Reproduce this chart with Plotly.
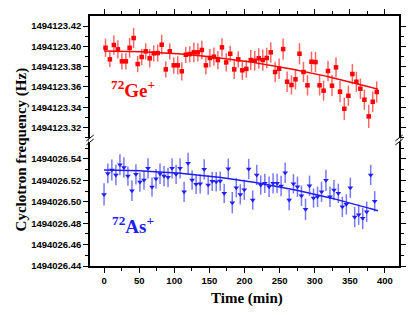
import numpy as np
import plotly.graph_objects as go

# ---------------- data ----------------
t_ge = [2.1, 8.3, 14.0, 19.7, 25.4, 31.1, 36.4, 42.1, 47.9, 53.6, 59.3, 65.0, 70.7, 76.4, 82.1,
        87.9, 93.6, 99.3, 105.0, 110.7, 116.4, 122.1, 127.9, 133.6, 139.3, 145.0, 150.7, 156.4,
        162.1, 167.9, 174.0, 179.7, 185.4, 191.1, 196.9, 202.6, 208.9, 214.6, 220.3, 226.0, 231.7,
        237.4, 243.6, 249.3, 255.0, 260.7, 266.9, 272.6, 278.3, 284.0, 289.7, 295.4, 301.1, 306.9,
        312.6, 318.9, 324.6, 330.3, 336.0, 342.1, 347.9, 353.6, 359.3, 365.0, 370.7, 376.9, 382.6,
        388.3]
f_ge = [1494123.3986, 1494123.3872, 1494123.4013, 1494123.3970, 1494123.3852, 1494123.3852,
        1494123.3986, 1494123.4082, 1494123.3826, 1494123.3895, 1494123.3951, 1494123.3882,
        1494123.3931, 1494123.3934, 1494123.4016, 1494123.3773, 1494123.3951, 1494123.3813,
        1494123.3813, 1494123.3754, 1494123.3917, 1494123.3924, 1494123.3941, 1494123.3941,
        1494123.3964, 1494123.3813, 1494123.3885, 1494123.3898, 1494123.3865, 1494123.3990,
        1494123.3842, 1494123.3927, 1494123.3773, 1494123.3872, 1494123.3764, 1494123.3778,
        1494123.3865, 1494123.3858, 1494123.3882, 1494123.3865, 1494123.3885, 1494123.3941,
        1494123.3747, 1494123.3779, 1494123.3973, 1494123.3651, 1494123.3619, 1494123.3675,
        1494123.3927, 1494123.3747, 1494123.3616, 1494123.3848, 1494123.3845, 1494123.3616,
        1494123.3563, 1494123.3757, 1494123.3612, 1494123.3793, 1494123.3553, 1494123.3385,
        1494123.3513, 1494123.3727, 1494123.3651, 1494123.3582, 1494123.3474, 1494123.3310,
        1494123.3454, 1494123.3550]
e_ge = [0.0090, 0.0075, 0.0097, 0.0090, 0.0080, 0.0080, 0.0097, 0.0100, 0.0080, 0.0080, 0.0080,
        0.0090, 0.0080, 0.0085, 0.0097, 0.0080, 0.0080, 0.0080, 0.0090, 0.0090, 0.0080, 0.0080,
        0.0097, 0.0090, 0.0090, 0.0090, 0.0090, 0.0090, 0.0090, 0.0090, 0.0090, 0.0080, 0.0095,
        0.0080, 0.0095, 0.0087, 0.0100, 0.0095, 0.0100, 0.0105, 0.0100, 0.0100, 0.0100, 0.0100,
        0.0105, 0.0100, 0.0095, 0.0100, 0.0105, 0.0100, 0.0100, 0.0100, 0.0100, 0.0100, 0.0100,
        0.0100, 0.0105, 0.0100, 0.0105, 0.0110, 0.0100, 0.0100, 0.0100, 0.0100, 0.0100, 0.0115,
        0.0100, 0.0105]

t_as = [0.0, 5.4, 11.1, 16.9, 22.6, 28.3, 34.0, 39.7, 45.4, 51.1, 56.9, 62.6, 68.3, 74.0, 79.7,
        85.4, 91.1, 96.9, 102.6, 108.3, 114.0, 119.7, 125.4, 131.1, 136.9, 142.6, 148.3, 154.0,
        159.7, 165.4, 171.1, 176.9, 182.6, 188.3, 194.0, 199.7, 206.0, 211.7, 217.4, 223.1, 228.9,
        235.0, 240.7, 246.4, 252.1, 257.9, 263.6, 269.7, 275.4, 281.1, 286.9, 292.6, 298.3, 304.0,
        309.7, 316.0, 321.7, 327.4, 333.6, 339.3, 345.0, 350.7, 356.9, 362.6, 368.3, 374.0, 379.7,
        385.4]
f_as = [1494026.5069, 1494026.5265, 1494026.5296, 1494026.5250, 1494026.5346, 1494026.5321,
        1494026.5240, 1494026.5103, 1494026.5256, 1494026.5184, 1494026.5203, 1494026.5312,
        1494026.5137, 1494026.5215, 1494026.5262, 1494026.5240, 1494026.5228, 1494026.5312,
        1494026.5256, 1494026.5312, 1494026.5093, 1494026.5359, 1494026.5203, 1494026.5163,
        1494026.5168, 1494026.5303, 1494026.5156, 1494026.5191, 1494026.5187, 1494026.5193,
        1494026.5079, 1494026.5308, 1494026.4991, 1494026.5131, 1494026.5069, 1494026.5112,
        1494026.5306, 1494026.5016, 1494026.5250, 1494026.5156, 1494026.5172, 1494026.5140,
        1494026.5172, 1494026.5172, 1494026.5147, 1494026.5271, 1494026.5016, 1494026.5168,
        1494026.5140, 1494026.5056, 1494026.4929, 1494026.5150, 1494026.5035, 1494026.5047,
        1494026.5093, 1494026.5200, 1494026.5047, 1494026.5109, 1494026.5079, 1494026.4953,
        1494026.4976, 1494026.5131, 1494026.4857, 1494026.4879, 1494026.4845, 1494026.4907,
        1494026.5250, 1494026.5004]
e_as = [0.0105, 0.0093, 0.0098, 0.0095, 0.0098, 0.0095, 0.0090, 0.0095, 0.0095, 0.0090, 0.0090,
        0.0095, 0.0090, 0.0090, 0.0095, 0.0095, 0.0090, 0.0095, 0.0090, 0.0095, 0.0095, 0.0100,
        0.0090, 0.0090, 0.0090, 0.0095, 0.0090, 0.0090, 0.0090, 0.0090, 0.0090, 0.0095, 0.0100,
        0.0090, 0.0095, 0.0095, 0.0095, 0.0090, 0.0095, 0.0090, 0.0090, 0.0095, 0.0095, 0.0090,
        0.0095, 0.0095, 0.0095, 0.0090, 0.0095, 0.0095, 0.0100, 0.0095, 0.0090, 0.0095, 0.0095,
        0.0100, 0.0095, 0.0095, 0.0090, 0.0095, 0.0095, 0.0095, 0.0095, 0.0095, 0.0100, 0.0095,
        0.0095, 0.0095]

# quadratic fit curves as drawn in the figure: f(t) = a + b*t + c*t^2  (t in min)
fit_ge_coef = [1494123.3954, 0.0, -2.481e-7]
fit_as_coef = [1494026.5296, 0.0, -2.501e-7]
fit_t_range = [0.0, 390.0]

x_ticks = [0, 50, 100, 150, 200, 250, 300, 350, 400]


def fit_curve(coef):
    tt = np.linspace(fit_t_range[0], fit_t_range[1], 200)
    a, b, c = coef
    return tt, a + b * tt + c * tt ** 2


tg, fg = fit_curve(fit_ge_coef)
ta, fa = fit_curve(fit_as_coef)

RED = "#ff0000"
BLUE = "#1e1eff"
TICKFONT = dict(family="Liberation Sans, Arial", size=9.5, color="black", weight="bold")
SERIF = "Liberation Serif, Times New Roman, serif"

fig = go.Figure()
fig.add_trace(go.Scatter(x=t_ge, y=f_ge, mode="markers", xaxis="x2", yaxis="y",
                         marker=dict(symbol="square", size=4.5, color=RED),
                         error_y=dict(type="data", array=e_ge, color="rgba(255,0,0,0.6)",
                                      thickness=1.5, width=0)))
fig.add_trace(go.Scatter(x=tg, y=fg, mode="lines", xaxis="x2", yaxis="y",
                         line=dict(color=RED, width=1.5)))
fig.add_trace(go.Scatter(x=t_as, y=f_as, mode="markers", xaxis="x", yaxis="y2",
                         marker=dict(symbol="triangle-down", size=5, color=BLUE),
                         error_y=dict(type="data", array=e_as, color="rgba(30,30,255,0.6)",
                                      thickness=1.5, width=0)))
fig.add_trace(go.Scatter(x=ta, y=fa, mode="lines", xaxis="x", yaxis="y2",
                         line=dict(color=BLUE, width=1.5)))

split = 0.504
common_y = dict(showline=True, linecolor="black", linewidth=1.5, mirror="ticks",
                ticks="outside", ticklen=5, tickwidth=1.2, tickcolor="black",
                tickformat=".2f", dtick=0.02, tickfont=TICKFONT, showgrid=False, zeroline=False,
                automargin=False,
                minor=dict(ticks="outside", ticklen=3, tickwidth=1, dtick=0.01, tickcolor="black"))

fig.update_layout(
    width=411, height=315,
    margin=dict(l=90, r=12, t=16, b=49, autoexpand=False),
    paper_bgcolor="white", plot_bgcolor="white",
    showlegend=False,
    xaxis=dict(domain=[0, 1], anchor="y2", range=[-20, 420], tickvals=x_ticks,
               showline=True, linecolor="black", linewidth=1.5, ticks="outside", ticklen=5,
               tickwidth=1.2, tickcolor="black", tickfont=TICKFONT, showgrid=False, zeroline=False,
               automargin=False,
               minor=dict(ticks="outside", ticklen=3, tickwidth=1, dtick=25, tickcolor="black")),
    xaxis2=dict(domain=[0, 1], anchor="y", side="top", matches="x", range=[-20, 420],
                tickvals=x_ticks, showticklabels=False, automargin=False,
                showline=True, linecolor="black", linewidth=1.5, ticks="outside", ticklen=5,
                tickwidth=1.2, tickcolor="black", showgrid=False, zeroline=False,
                minor=dict(ticks="outside", ticklen=3, tickwidth=1, dtick=25, tickcolor="black")),
    yaxis=dict(domain=[split, 1], anchor="x2", range=[1494123.3077, 1494123.4299],
               tick0=1494123.32, **common_y),
    yaxis2=dict(domain=[0, split], anchor="x", range=[1494026.44, 1494026.5577],
                tick0=1494026.44, **common_y),
)

# axis titles and species labels
fig.add_annotation(text="Cyclotron frequency (Hz)", xref="paper", yref="paper",
                   x=-0.222, y=0.468, xanchor="center", yanchor="middle",
                   textangle=-90, showarrow=False,
                   font=dict(family=SERIF, size=15, color="black", weight="bold"))
fig.add_annotation(text="Time (min)", xref="paper", yref="paper", x=0.508, y=-0.128,
                   xanchor="center", yanchor="middle", showarrow=False,
                   font=dict(family=SERIF, size=15, color="black", weight="bold"))
fig.add_annotation(text="<sup>72</sup>Ge<sup>+</sup>", xref="x2", yref="y", x=40.7, y=1494123.358,
                   xanchor="center", yanchor="middle", showarrow=False,
                   font=dict(family=SERIF, size=19, color=RED, weight="bold"))
fig.add_annotation(text="<sup>72</sup>As<sup>+</sup>", xref="x", yref="y2", x=41, y=1494026.4787,
                   xanchor="center", yanchor="middle", showarrow=False,
                   font=dict(family=SERIF, size=19, color=BLUE, weight="bold"))

# axis-break marks on left and right frame lines
for xp in (0, 1):
    fig.add_shape(type="line", xref="paper", yref="paper", x0=xp, x1=xp,
                  y0=split - 0.008, y1=split + 0.008, line=dict(color="white", width=3))
    for dy in (-0.008, 0.008):
        fig.add_shape(type="line", xref="paper", yref="paper", x0=xp - 0.012, x1=xp + 0.012,
                      y0=split + dy - 0.012, y1=split + dy + 0.012,
                      line=dict(color="black", width=1))

fig.write_html("out.html", config={"displayModeBar": False},
               post_script="document.body.style.margin='0';")
